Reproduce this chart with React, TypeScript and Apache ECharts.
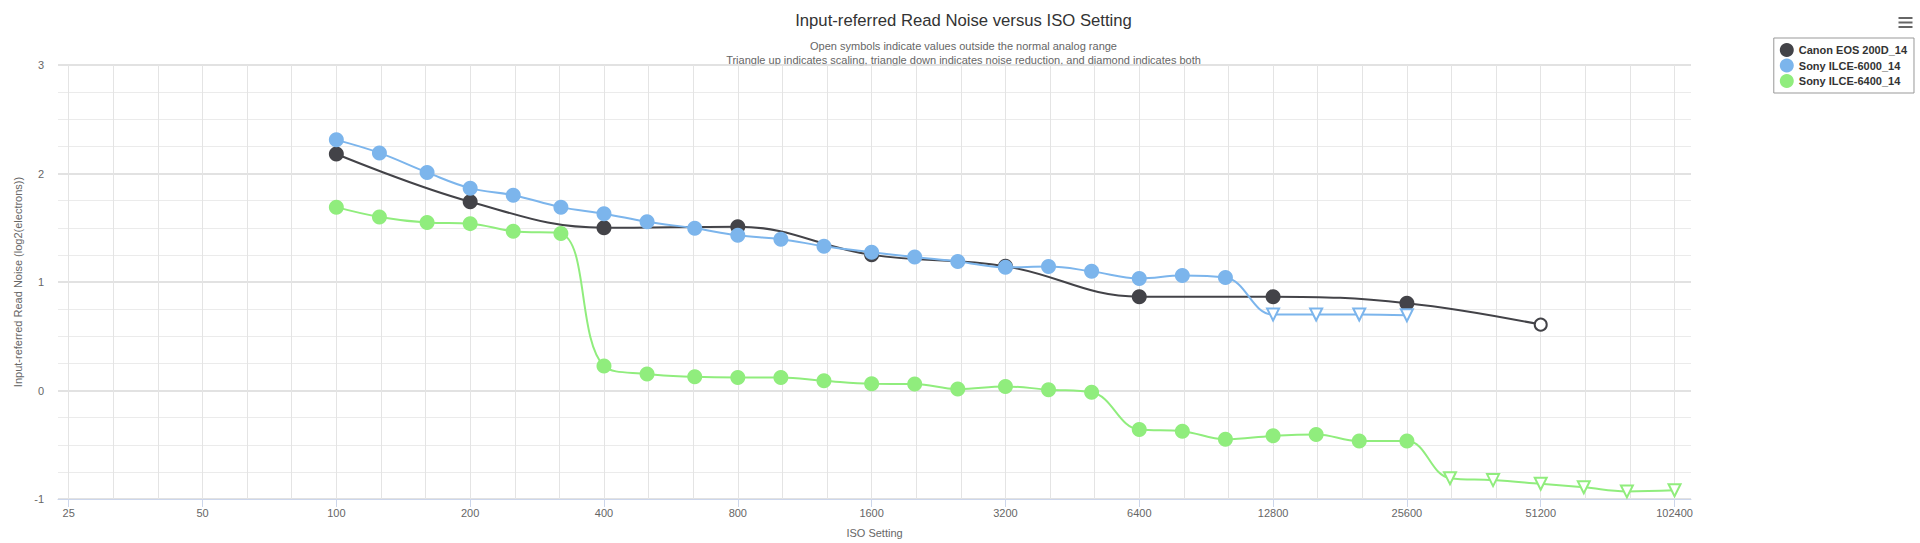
import React, { useEffect, useRef } from 'react';
import * as echarts from 'echarts';

// ---------- data ----------
const ISO_BASE = 25;
const ISO_TICKS = [25, 50, 100, 200, 400, 800, 1600, 3200, 6400, 12800, 25600, 51200, 102400];
const Y_TICKS = [-1, 0, 1, 2, 3];

const TITLE = 'Input-referred Read Noise versus ISO Setting';
const SUBTITLE_1 = 'Open symbols indicate values outside the normal analog range';
const SUBTITLE_2 = 'Triangle up indicates scaling, triangle down indicates noise reduction, and diamond indicates both';
const X_NAME = 'ISO Setting';
const Y_NAME = 'Input-referred Read Noise (log2(electrons))';

const SERIES_NAMES = ['Canon EOS 200D_14', 'Sony ILCE-6000_14', 'Sony ILCE-6400_14'];
const SERIES_COLORS = ['#434348', '#7cb5ec', '#90ed7d'];

// marker kinds: 'c' filled circle, 'o' open circle, 'v' open triangle down
const CANON_ISO = [100, 200, 400, 800, 1600, 3200, 6400, 12800, 25600, 51200];
const CANON_NOISE = [2.18, 1.74, 1.5, 1.51, 1.25, 1.145, 0.865, 0.865, 0.805, 0.607];
const CANON_MARK = ['c', 'c', 'c', 'c', 'c', 'c', 'c', 'c', 'c', 'o'];

const SONY6000_ISO = [100, 125, 160, 200, 250, 320, 400, 500, 640, 800, 1000, 1250, 1600, 2000, 2500, 3200, 4000, 5000, 6400, 8000, 10000, 12800, 16000, 20000, 25600];
const SONY6000_NOISE = [2.31, 2.19, 2.01, 1.865, 1.8, 1.69, 1.63, 1.555, 1.495, 1.43, 1.395, 1.33, 1.275, 1.23, 1.19, 1.135, 1.142, 1.098, 1.033, 1.06, 1.041, 0.7, 0.7, 0.7, 0.693];
const SONY6000_MARK = ['c', 'c', 'c', 'c', 'c', 'c', 'c', 'c', 'c', 'c', 'c', 'c', 'c', 'c', 'c', 'c', 'c', 'c', 'c', 'c', 'c', 'v', 'v', 'v', 'v'];

const SONY6400_ISO = [100, 125, 160, 200, 250, 320, 400, 500, 640, 800, 1000, 1250, 1600, 2000, 2500, 3200, 4000, 5000, 6400, 8000, 10000, 12800, 16000, 20000, 25600, 32000, 40000, 51200, 64000, 80000, 102400];
const SONY6400_NOISE = [1.69, 1.6, 1.548, 1.538, 1.468, 1.446, 0.226, 0.152, 0.126, 0.12, 0.12, 0.09, 0.062, 0.06, 0.013, 0.037, 0.008, -0.016, -0.36, -0.375, -0.45, -0.418, -0.405, -0.466, -0.466, -0.808, -0.826, -0.86, -0.892, -0.93, -0.92];
const SONY6400_MARK = ['c', 'c', 'c', 'c', 'c', 'c', 'c', 'c', 'c', 'c', 'c', 'c', 'c', 'c', 'c', 'c', 'c', 'c', 'c', 'c', 'c', 'c', 'c', 'c', 'c', 'v', 'v', 'v', 'v', 'v', 'v'];

const FONT = "'Liberation Sans', Arial, sans-serif";

const toStops = (iso: number) => Math.log2(iso / ISO_BASE);

function buildData(isos: number[], vals: number[], marks: string[], color: string) {
  return isos.map((iso, i) => {
    const item: any = { value: [toStops(iso), vals[i]] };
    if (marks[i] === 'o') {
      item.symbol = 'circle';
      item.symbolSize = 12;
      item.itemStyle = { color: '#ffffff', borderColor: color, borderWidth: 2 };
    } else if (marks[i] === 'v') {
      item.symbol = 'triangle';
      item.symbolRotate = 180;
      item.symbolSize = 12;
      item.itemStyle = { color: '#ffffff', borderColor: color, borderWidth: 2 };
    }
    return item;
  });
}

export default function App() {
  const ref = useRef<HTMLDivElement>(null);

  useEffect(() => {
    if (!ref.current) return;
    const chart = echarts.init(ref.current, undefined, { renderer: 'svg' });

    const majorStops = ISO_TICKS.map(toStops);
    const thirdStops: number[] = [];
    for (let k = 0; k <= 3 * (ISO_TICKS.length - 1); k++) thirdStops.push(k / 3);

    const seriesDefs = [
      { iso: CANON_ISO, val: CANON_NOISE, mark: CANON_MARK },
      { iso: SONY6000_ISO, val: SONY6000_NOISE, mark: SONY6000_MARK },
      { iso: SONY6400_ISO, val: SONY6400_NOISE, mark: SONY6400_MARK },
    ];

    const option: any = {
      animation: false,
      backgroundColor: '#ffffff',
      textStyle: { fontFamily: FONT },
      grid: { left: 58, right: 229, top: 65, bottom: 40, containLabel: false },
      legend: {
        orient: 'vertical',
        right: 6,
        top: 38,
        padding: [5, 7, 5, 6],
        itemGap: 1.5,
        itemWidth: 14,
        itemHeight: 14,
        icon: 'circle',
        borderColor: '#999999',
        borderWidth: 1,
        borderRadius: 0,
        textStyle: { fontFamily: FONT, fontSize: 11, fontWeight: 'bold', color: '#333333' },
        data: SERIES_NAMES,
      },
      xAxis: [
        {
          type: 'value',
          min: -0.08,
          max: 12.123,
          axisLine: { show: false },
          axisTick: { show: false, customValues: thirdStops },
          axisLabel: { show: false },
          splitLine: { show: true, lineStyle: { color: '#e4e4e4', width: 1 } },
        },
        {
          type: 'value',
          position: 'bottom',
          min: -0.08,
          max: 12.123,
          name: X_NAME,
          nameLocation: 'middle',
          nameGap: 28,
          nameTextStyle: { color: '#666666', fontSize: 11, fontFamily: FONT },
          axisLine: { show: true, lineStyle: { color: '#ccd6eb', width: 1 } },
          axisTick: { show: true, length: 8, customValues: majorStops, lineStyle: { color: '#ccd6eb' } },
          axisLabel: {
            customValues: majorStops,
            margin: 8,
            color: '#666666',
            fontSize: 11,
            fontFamily: FONT,
            formatter: (v: number) => {
              const iso = ISO_BASE * Math.pow(2, v);
              let best = ISO_TICKS[0];
              ISO_TICKS.forEach((t) => { if (Math.abs(t - iso) < Math.abs(best - iso)) best = t; });
              return String(best);
            },
          },
          splitLine: { show: false },
        },
      ],
      yAxis: {
        type: 'value',
        min: Y_TICKS[0],
        max: Y_TICKS[Y_TICKS.length - 1],
        interval: 1,
        name: Y_NAME,
        nameLocation: 'middle',
        nameRotate: 90,
        nameGap: 26,
        nameTextStyle: { color: '#666666', fontSize: 11, fontFamily: FONT },
        axisLine: { show: false },
        axisTick: { show: false },
        axisLabel: { margin: 14, color: '#666666', fontSize: 11, fontFamily: FONT },
        splitLine: { show: true, lineStyle: { color: '#d9d9d9', width: 1.5 } },
        minorTick: { show: false, splitNumber: 4 },
        minorSplitLine: { show: true, lineStyle: { color: '#ebebeb', width: 1 } },
      },
      series: seriesDefs.map((d, i) => ({
        name: SERIES_NAMES[i],
        type: 'line',
        xAxisIndex: 0,
        smooth: 0.4,
        symbol: 'circle',
        symbolSize: 15,
        showSymbol: true,
        z: 2 + i,
        lineStyle: { color: SERIES_COLORS[i], width: 2 },
        itemStyle: { color: SERIES_COLORS[i] },
        emphasis: { disabled: true },
        data: buildData(d.iso, d.val, d.mark, SERIES_COLORS[i]),
      })),
      graphic: [
        {
          type: 'text', x: 963.5, y: 20,
          style: { text: TITLE, fontSize: 16.7, fontFamily: FONT, fill: '#333333', textAlign: 'center', textVerticalAlign: 'middle' },
        },
        {
          type: 'text', x: 963.5, y: 46,
          style: { text: SUBTITLE_1, fontSize: 11, fontFamily: FONT, fill: '#666666', textAlign: 'center', textVerticalAlign: 'middle' },
        },
        {
          type: 'text', x: 963.5, y: 59.5,
          style: { text: SUBTITLE_2, fontSize: 11, fontFamily: FONT, fill: '#666666', textAlign: 'center', textVerticalAlign: 'middle' },
        },
        {
          type: 'group', x: 1898.5, y: 17,
          children: [
            { type: 'rect', shape: { x: 0, y: 0, width: 14, height: 2 }, style: { fill: '#666666' } },
            { type: 'rect', shape: { x: 0, y: 4.5, width: 14, height: 2 }, style: { fill: '#666666' } },
            { type: 'rect', shape: { x: 0, y: 9, width: 14, height: 2 }, style: { fill: '#666666' } },
          ],
        },
      ],
    };

    chart.setOption(option);
    return () => chart.dispose();
  }, []);

  return (
    <div
      ref={ref}
      style={{ position: 'fixed', left: 0, top: 0, width: 1920, height: 543, background: '#ffffff' }}
    />
  );
}
